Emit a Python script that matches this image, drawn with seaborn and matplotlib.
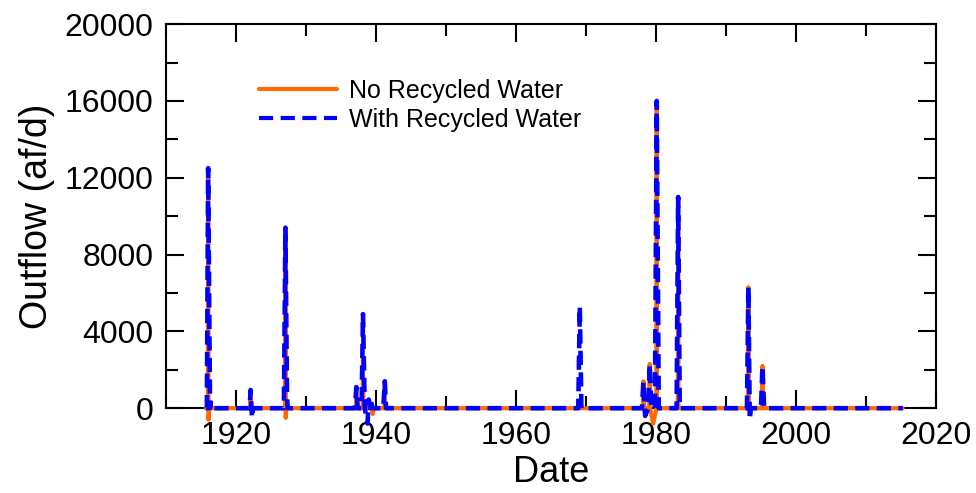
import numpy as np
import pandas as pd
import matplotlib
matplotlib.use("Agg")
import matplotlib.pyplot as plt
import seaborn as sns
from matplotlib.ticker import MultipleLocator

# Outflow series (decimal year, af/d)
with_rw_years = [1915.7, 1915.85, 1916.03, 1916.3, 1916.4, 1916.55,
                 1921.95, 1922.1, 1922.3, 1922.45,
                 1926.85, 1927.07, 1927.3, 1927.4,
                 1937.0, 1937.2, 1937.4, 1937.95, 1938.15, 1938.4,
                 1938.8, 1938.97, 1939.15, 1939.3, 1939.5,
                 1941.05, 1941.26, 1941.45,
                 1968.9, 1969.12, 1969.35,
                 1978.0, 1978.21, 1978.45, 1978.9, 1979.11, 1979.35,
                 1979.85, 1980.11, 1980.4,
                 1982.95, 1983.17, 1983.4,
                 1993.0, 1993.2, 1993.4, 1993.55,
                 1995.0, 1995.21, 1995.45,
                 2015.24]
with_rw_flow = [0, 0, 12500, 0, 300, 0,
                0, 950, -500, 0,
                0, 9400, 600, 0,
                0, 1100, 0, 0, 4900, 0,
                -800, 450, 0, 350, 0,
                0, 1400, 0,
                0, 5300, 0,
                0, 1400, -400, 0, 2300, 0,
                0, 16000, 0,
                0, 11000, 0,
                0, 6300, -600, 0,
                0, 2200, 0,
                0]

no_rw_years = [1915.7, 1916.0, 1916.03, 1916.08, 1916.2,
               1922.05, 1922.1, 1922.15,
               1927.03, 1927.07, 1927.11, 1927.2,
               1937.15, 1937.2, 1937.25, 1938.1, 1938.15, 1938.2,
               1939.4, 1939.55, 1939.7,
               1941.21, 1941.26, 1941.31,
               1978.16, 1978.21, 1978.26, 1979.06, 1979.11, 1979.16,
               1979.6, 1980.07, 1980.11, 1980.15,
               1983.13, 1983.17, 1983.21,
               1993.16, 1993.2, 1993.24,
               1995.17, 1995.21, 1995.25,
               2015.24]
no_rw_flow = [0, 0, 12500, -600, 0,
              0, 900, 0,
              0, 9400, -500, 0,
              0, 1100, 0, 0, 2600, 0,
              0, -300, 0,
              0, 1400, 0,
              0, 1400, 0, 0, 2300, 0,
              -800, 0, 16000, 0,
              0, 11000, 0,
              0, 6300, 0,
              0, 2200, 0,
              0]

sns.set_theme(style="ticks", rc={"text.color": "black", "axes.labelcolor": "black",
                                 "xtick.color": "black", "ytick.color": "black",
                                 "axes.edgecolor": "black"})
plt.rcParams["font.family"] = ["Liberation Sans", "DejaVu Sans"]

fig = plt.figure(figsize=(9.76, 4.93), dpi=100)
ax = fig.add_axes([0.170, 0.172, 0.789, 0.779])

sns.lineplot(x=no_rw_years, y=no_rw_flow, ax=ax, color="#ff6a00", linewidth=3,
             estimator=None, sort=False, label="No Recycled Water")
sns.lineplot(x=with_rw_years, y=with_rw_flow, ax=ax, color="#0000ff", linewidth=3.3,
             estimator=None, sort=False, label="With Recycled Water",
             dashes=False)
ax.lines[1].set_dashes((3.1, 1.6))
for ln in ax.lines:
    ln.set_clip_on(False)
    ln.set_zorder(3)

ax.set_xlim(1910, 2020)
ax.set_ylim(0, 20000)
ax.xaxis.set_major_locator(MultipleLocator(20))
ax.xaxis.set_minor_locator(MultipleLocator(10))
ax.yaxis.set_major_locator(MultipleLocator(4000))
ax.yaxis.set_minor_locator(MultipleLocator(2000))
ax.tick_params(which="both", direction="in", top=True, right=True,
               width=1.5, labelsize=23, pad=9, color="black")
ax.tick_params(which="major", length=13)
ax.tick_params(which="minor", length=8.5)
for s in ax.spines.values():
    s.set_linewidth(1.5)
    s.set_color("black")
    s.set_zorder(2)

ax.set_xlabel("Date", fontsize=26, labelpad=3)
ax.set_ylabel("Outflow (af/d)", fontsize=27, labelpad=7)

leg = ax.legend(loc="upper left", bbox_to_anchor=(0.105, 0.89), frameon=False,
                fontsize=18, handlelength=3.1, handletextpad=0.5,
                labelspacing=0.2, borderpad=0)
for h in leg.get_lines():
    h.set_linewidth(3)
leg.get_lines()[1].set_dashes((3.4, 1.8))

fig.savefig("out.png", dpi=100)
